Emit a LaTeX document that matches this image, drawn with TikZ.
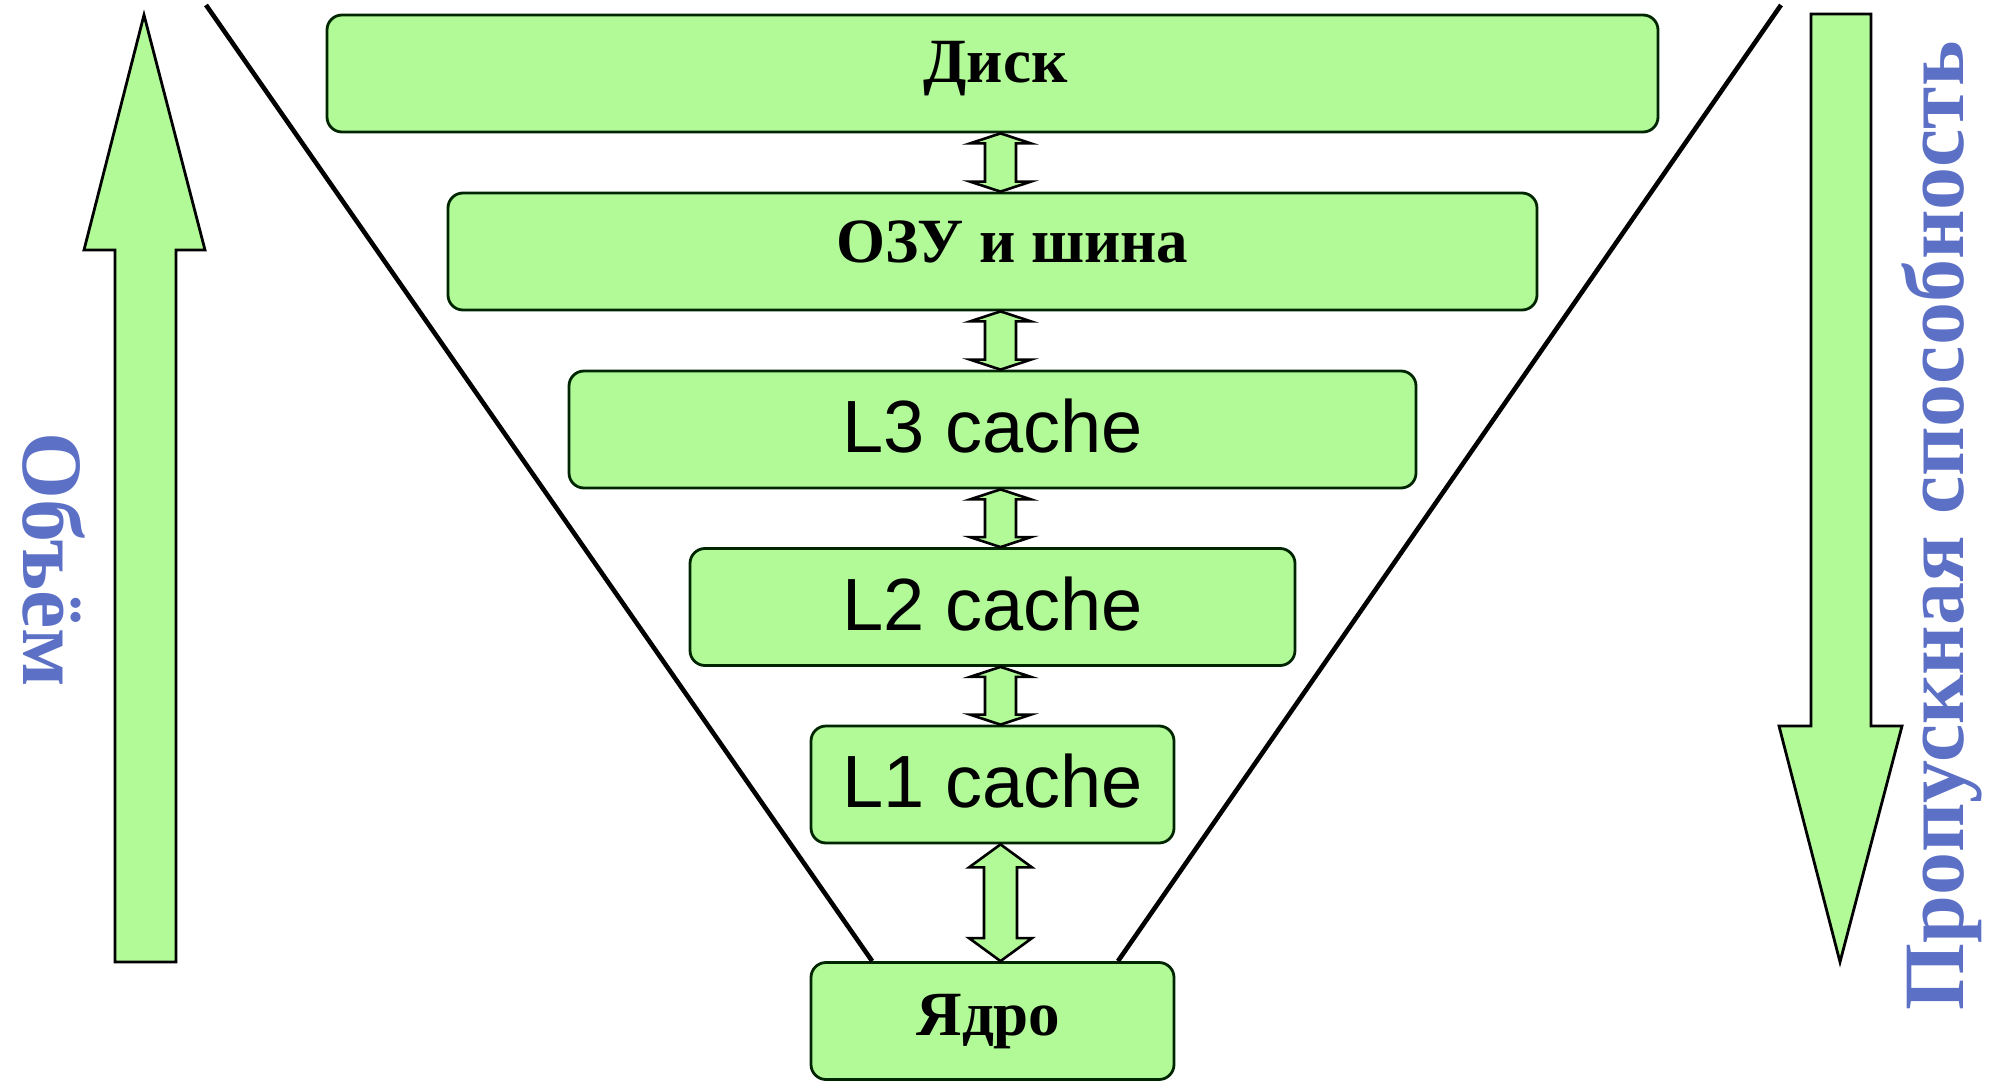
\documentclass[tikz,border=0pt]{standalone}
\usepackage{fontspec}
\setmainfont{Liberation Serif}
\newfontfamily\sansf{Liberation Sans}
\usetikzlibrary{calc}
\definecolor{boxgreen}{RGB}{178,250,152}
\definecolor{labelblue}{RGB}{92,112,198}
\newcommand\mydblarrow[5]{% upper node, lower node, head length, head half width, shaft half width
  \draw[dblarr] let \p1=($(#1.south)+(4pt,0)$), \p2=($(#2.north)+(4pt,0)$) in
    (\p1) -- (\x1+#4,\y1-#3) -- (\x1+#5,\y1-#3) -- (\x1+#5,\y2+#3) -- (\x1+#4,\y2+#3)
    -- (\x1,\y2) -- (\x1-#4,\y2+#3) -- (\x1-#5,\y2+#3) -- (\x1-#5,\y1-#3)
    -- (\x1-#4,\y1-#3) -- cycle;}
\tikzset{
  level/.style={draw=black!85!green, line width=1.4pt, fill=boxgreen, rounded corners=7.5pt,
    minimum height=58.5pt, inner sep=0pt},
  rutext/.style={font=\bfseries\fontsize{31.5}{36}\selectfont},
  entext/.style={font=\sansf\fontsize{37}{44}\selectfont},
  dblarr/.style={draw=black, line width=1.3pt, fill=boxgreen, line join=miter},
  bigarr/.style={draw=black, line width=1.4pt, fill=boxgreen},
  funnel/.style={draw=black, line width=2.3pt},
  sidelabel/.style={text=labelblue, font=\bfseries\fontsize{43}{50}\selectfont}
}
\begin{document}
\begin{tikzpicture}[x=0.5pt,y=-0.5pt]
\useasboundingbox[fill=white] (0,0) rectangle (1997,1081);
% big side arrows
\draw[bigarr] (144,15) -- (205,250) -- (176,250) -- (176,962) -- (115,962) -- (115,250) -- (84,250) -- cycle;
\draw[bigarr] (1811,14) -- (1871,14) -- (1871,726) -- (1902,726) -- (1840,962) -- (1779,726) -- (1811,726) -- cycle;
\node[sidelabel, rotate=-90] (vol) at (54,560) {Объём};
\node[sidelabel, rotate=90] (bw) at (1942,526) {Пропускная способность};
% levels
\node[level, minimum width=665.5pt] (disk) at (992.5,73.5) {};
\node[level, minimum width=544.5pt] (ram) at (992.5,251.5) {};
\node[level, minimum width=423.5pt] (l3) at (992.5,429.5) {};
\node[level, minimum width=302.5pt] (l2) at (992.5,607) {};
\node[level, minimum width=181.5pt] (l1) at (992.5,784.5) {};
\node[level, minimum width=181.5pt] (core) at (992.5,1021) {};
% labels
\node[rutext] (tdisk) at ($(disk.center)+(3,-5)$) {Диск};
\node[rutext] (tram) at ($(ram.center)+(20,-10)$) {ОЗУ и шина};
\node[entext] (tl3) at ($(l3.center)+(0,-3)$) {L3 cache};
\node[entext] (tl2) at ($(l2.center)+(0,-3)$) {L2 cache};
\node[entext] (tl1) at ($(l1.center)+(0,-3)$) {L1 cache};
\node[rutext] (tcore) at ($(core.center)+(-4,1)$) {Ядро};
% funnel lines
\coordinate (ltop) at (206,5);
\coordinate (rtop) at (1781,5);
\draw[funnel] (ltop) -- ($(core.north west)!0.171!(core.north east)$);
\draw[funnel] (rtop) -- ($(core.north west)!0.843!(core.north east)$);
% connectors
\mydblarrow{disk}{ram}{5pt}{15.25pt}{7.75pt}
\mydblarrow{ram}{l3}{5pt}{15.25pt}{7.75pt}
\mydblarrow{l3}{l2}{5pt}{15.25pt}{7.75pt}
\mydblarrow{l2}{l1}{5pt}{15.25pt}{7.75pt}
\mydblarrow{l1}{core}{11.5pt}{15.75pt}{8.25pt}
\end{tikzpicture}
\end{document}
